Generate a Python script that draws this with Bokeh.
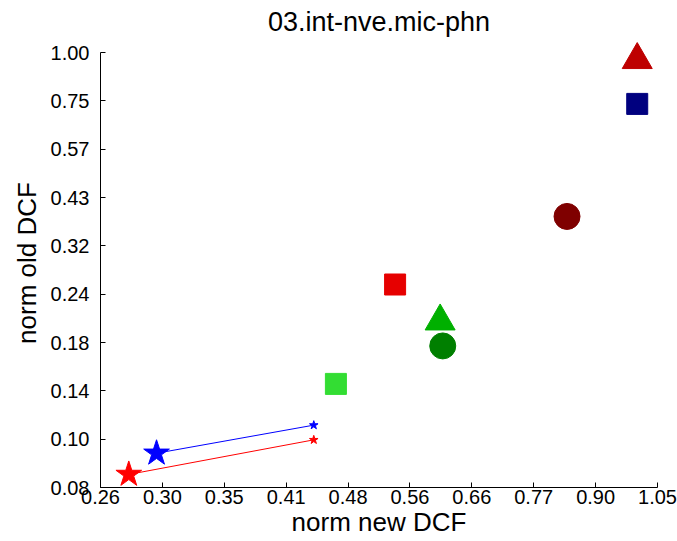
from bokeh.plotting import figure
from bokeh.models import Range1d, FixedTicker, ColumnDataSource
from bokeh.embed import file_html
from bokeh.resources import INLINE
import numpy as np

# ---- data ----
title_text = "03.int-nve.mic-phn"
x_label = "norm new DCF"
y_label = "norm old DCF"

x_tick_labels = ["0.26", "0.30", "0.35", "0.41", "0.48", "0.56", "0.66", "0.77", "0.90", "1.05"]
y_tick_labels = ["0.08", "0.10", "0.14", "0.18", "0.24", "0.32", "0.43", "0.57", "0.75", "1.00"]
x_lo, x_hi = 0.26, 1.05
y_lo, y_hi = 0.08, 1.00

# single systems (markers)
sys_new = [0.998, 0.998, 0.837, 0.544, 0.609, 0.613, 0.469]
sys_old = [0.958, 0.742, 0.386, 0.260, 0.210, 0.182, 0.146]
sys_marker = ["triangle", "square", "circle", "square", "triangle", "circle", "square"]
sys_color = ["#BE0000", "#00007F", "#7F0000", "#E60000", "#00B000", "#007F00", "#33DD33"]
sys_size = [30, 21, 26, 21, 30, 26, 21]

# fused systems (stars with line to an end point)
fus_new = [0.2992, 0.2791]
fus_old = [0.0976, 0.0863]
end_new = [0.4437, 0.4437]
end_old = [0.1149, 0.1055]
fus_color = ["#0000FF", "#FF0000"]

# ---- layout (pixels) ----
frame_h = 435           # pixel height between y_lo and y_hi
pad_top = 14            # extra frame room above y_hi so markers are not clipped
y_top = y_hi * (y_hi / y_lo) ** (pad_top / frame_h)

p = figure(frame_width=557, frame_height=frame_h + pad_top,
           x_axis_type="log", y_axis_type="log",
           x_range=Range1d(x_lo, x_hi), y_range=Range1d(y_lo, y_top),
           output_backend="svg", toolbar_location=None, title=title_text,
           min_border_left=100, min_border_right=20, min_border_top=52 - pad_top,
           min_border_bottom=54)

p.title.align = "center"
p.title.text_font = "Liberation Sans"
p.title.text_font_size = "27px"
p.title.text_font_style = "normal"
p.title.text_color = "black"
p.title.standoff = 3

p.xgrid.visible = False
p.ygrid.visible = False
p.outline_line_color = None
p.background_fill_color = "white"
p.border_fill_color = "white"

xt = list(np.geomspace(x_lo, x_hi, len(x_tick_labels)))
yt = list(np.geomspace(y_lo, y_hi, len(y_tick_labels)))
p.xaxis.ticker = FixedTicker(ticks=xt)
p.yaxis.ticker = FixedTicker(ticks=yt)
p.xaxis.major_label_overrides = {t: l for t, l in zip(xt, x_tick_labels)}
p.yaxis.major_label_overrides = {t: l for t, l in zip(yt, y_tick_labels)}
p.yaxis.bounds = (y_lo, y_hi)

p.xaxis.axis_label = x_label
p.yaxis.axis_label = y_label
for ax in (p.xaxis[0], p.yaxis[0]):
    ax.major_tick_in = 5
    ax.major_tick_out = 0
    ax.minor_tick_line_color = None
    ax.axis_line_color = "black"
    ax.major_tick_line_color = "black"
    ax.major_label_text_font = "Liberation Sans"
    ax.major_label_text_font_size = "20px"
    ax.major_label_text_color = "black"
    ax.axis_label_text_font = "Liberation Sans"
    ax.axis_label_text_font_size = "26px"
    ax.axis_label_text_font_style = "normal"
    ax.axis_label_text_color = "black"
p.xaxis.major_label_standoff = 2
p.xaxis.axis_label_standoff = 0
p.yaxis.major_label_standoff = 11
p.yaxis.axis_label_standoff = 6

src = ColumnDataSource(dict(x=sys_new, y=sys_old, m=sys_marker, c=sys_color, s=sys_size))
p.scatter("x", "y", marker="m", size="s", fill_color="c", line_color="c", source=src)

fsrc = ColumnDataSource(dict(x0=fus_new, y0=fus_old, x1=end_new, y1=end_old, c=fus_color))
p.segment("x0", "y0", "x1", "y1", line_color="c", line_width=1, source=fsrc)
p.scatter("x1", "y1", marker="star", size=9, fill_color="c", line_color="c", source=fsrc)
p.scatter("x0", "y0", marker="star", size=27, fill_color="c", line_color="c", source=fsrc)

open("out.html", "w").write(file_html(p, INLINE))
